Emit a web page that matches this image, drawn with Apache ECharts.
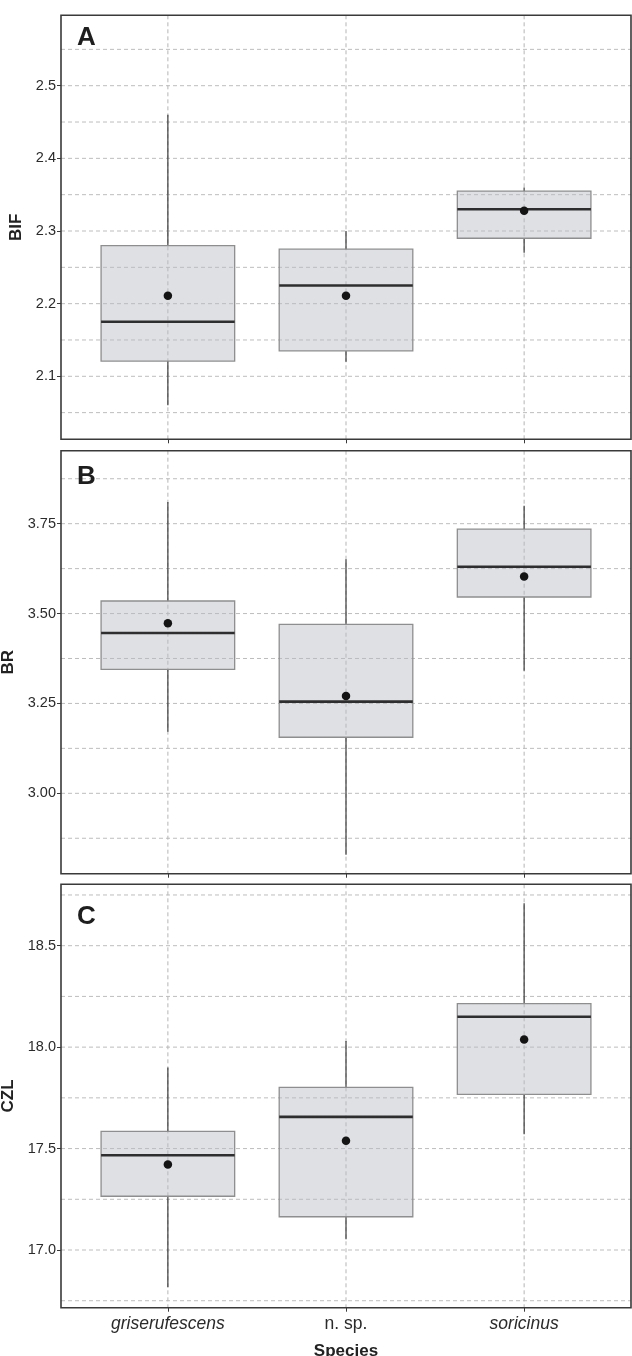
<!DOCTYPE html>
<html>
<head>
<meta charset="utf-8">
<script src="https://cdn.jsdelivr.net/npm/echarts@6/dist/echarts.min.js"></script>
<style>
  html, body { margin: 0; padding: 0; background: #fff; }
  #chart { width: 632px; height: 1356px; }
</style>
</head>
<body>
<div id="chart"></div>
<script>
// Species groups along the x axis (positions 1, 2, 3)
const species = ['griserufescens', 'n. sp.', 'soricinus'];
const italicSpecies = [true, false, true];

// Box statistics per species: [lower whisker, Q1, median, Q3, upper whisker]
const bifBoxes = [
  [2.060, 2.121, 2.175, 2.280, 2.460],
  [2.120, 2.135, 2.225, 2.275, 2.300],
  [2.270, 2.290, 2.330, 2.355, 2.360]
];
const bifMeans = [2.211, 2.211, 2.328];

const brBoxes = [
  [3.171, 3.345, 3.446, 3.535, 3.810],
  [2.829, 3.156, 3.255, 3.470, 3.651],
  [3.341, 3.546, 3.630, 3.735, 3.800]
];
const brMeans = [3.473, 3.271, 3.603];

const czlBoxes = [
  [16.816, 17.265, 17.467, 17.585, 17.900],
  [17.053, 17.164, 17.656, 17.802, 18.030],
  [17.570, 17.767, 18.150, 18.214, 18.709]
];
const czlMeans = [17.422, 17.539, 18.038];

// Axis ranges, labelled ticks and all grid-line values
const bifRange = [2.0133, 2.5969];
const bifTicks = [2.1, 2.2, 2.3, 2.4, 2.5];
const bifGrid = [2.05, 2.1, 2.15, 2.2, 2.25, 2.3, 2.35, 2.4, 2.45, 2.5, 2.55];

const brRange = [2.7764, 3.953];
const brTicks = [3.0, 3.25, 3.5, 3.75];
const brGrid = [2.875, 3.0, 3.125, 3.25, 3.375, 3.5, 3.625, 3.75, 3.875];

const czlRange = [16.7156, 18.8026];
const czlTicks = [17.0, 17.5, 18.0, 18.5];
const czlGrid = [16.75, 17.0, 17.25, 17.5, 17.75, 18.0, 18.25, 18.5, 18.75];

const panels = [
  { letter: 'A', title: 'BIF', boxes: bifBoxes, means: bifMeans, range: bifRange, ticks: bifTicks, grid: bifGrid, digits: 1, top: 15.3, height: 424, letterY: 37.5 },
  { letter: 'B', title: 'BR', boxes: brBoxes, means: brMeans, range: brRange, ticks: brTicks, grid: brGrid, digits: 2, top: 450.7, height: 423, letterY: 476.5 },
  { letter: 'C', title: 'CZL', boxes: czlBoxes, means: czlMeans, range: czlRange, ticks: czlTicks, grid: czlGrid, digits: 1, top: 884.3, height: 423.4, letterY: 917 }
];

const FONT = 'Liberation Sans, Arial, Helvetica, sans-serif';
const BOX_WIDTH = 0.75; // in x-axis units
const GRID_DASH = [4, 3];

const grids = [], xAxes = [], yAxes = [], series = [], graphics = [];

panels.forEach((p, i) => {
  const last = i === panels.length - 1;
  grids.push({
    left: 61, width: 570, top: p.top, height: p.height,
    outerBoundsMode: 'none', containLabel: false,
    show: true, borderColor: '#3a3a3a', borderWidth: 1.6, backgroundColor: 'transparent', z: 10
  });
  xAxes.push({
    type: 'value', gridIndex: i, min: 0.4, max: 3.6,
    axisLine: { show: false },
    splitLine: { show: false },
    axisTick: { show: true, customValues: [1, 2, 3], length: 4, lineStyle: { color: '#3a3a3a', width: 1 } },
    axisLabel: {
      show: last, customValues: [1, 2, 3], margin: 7,
      formatter: v => {
        const k = Math.round(v) - 1;
        return italicSpecies[k] ? '{it|' + species[k] + '}' : '{nm|' + species[k] + '}';
      },
      rich: {
        it: { fontFamily: FONT, fontSize: 17.5, fontStyle: 'italic', color: '#2b2b2b' },
        nm: { fontFamily: FONT, fontSize: 17.5, color: '#2b2b2b' }
      }
    },
    name: last ? 'Species' : '', nameLocation: 'middle', nameGap: 35,
    nameTextStyle: { fontFamily: FONT, fontSize: 17, fontWeight: 'bold', color: '#222' }
  });
  yAxes.push({
    type: 'value', gridIndex: i, min: p.range[0], max: p.range[1],
    axisLine: { show: false },
    splitLine: { show: false },
    axisTick: { show: true, customValues: p.ticks, length: 4, lineStyle: { color: '#3a3a3a', width: 1 } },
    axisLabel: {
      customValues: p.ticks, margin: 5,
      formatter: v => v.toFixed(p.digits),
      fontFamily: FONT, fontSize: 14.5, color: '#2b2b2b'
    },
    name: p.title, nameLocation: 'middle', nameRotate: 90, nameGap: 36,
    nameTextStyle: { fontFamily: FONT, fontSize: 17, fontWeight: 'bold', color: '#222' }
  });

  // Dashed reference grid: horizontal lines at each major/minor value, vertical at each species
  const gridData = p.grid.map(v => ['h', v]).concat([1, 2, 3].map(v => ['v', v]));
  series.push({
    type: 'custom', xAxisIndex: i, yAxisIndex: i, z: 1, silent: true,
    data: gridData.map((d, k) => [k]),
    renderItem: (params, api) => {
      const cs = params.coordSys;
      const d = gridData[params.dataIndex];
      if (d[0] === 'h') {
        const y = api.coord([1, d[1]])[1];
        return { type: 'line', shape: { x1: cs.x, y1: y, x2: cs.x + cs.width, y2: y },
          style: { stroke: '#bdbdbd', lineWidth: 1, lineDash: GRID_DASH } };
      }
      const x = api.coord([d[1], p.range[0]])[0];
      return { type: 'line', shape: { x1: x, y1: cs.y, x2: x, y2: cs.y + cs.height },
        style: { stroke: '#b5b5b5', lineWidth: 1, lineDash: GRID_DASH } };
    }
  });

  // Boxes with whiskers and median bar
  series.push({
    type: 'custom', xAxisIndex: i, yAxisIndex: i, z: 3,
    data: p.boxes.map((b, k) => [k + 1].concat(b)),
    encode: { x: 0, y: [1, 2, 3, 4, 5] },
    renderItem: (params, api) => {
      const x = api.value(0);
      const lo = api.coord([x, api.value(1)]);
      const q1 = api.coord([x - BOX_WIDTH / 2, api.value(2)]);
      const med = api.coord([x - BOX_WIDTH / 2, api.value(3)]);
      const q3 = api.coord([x - BOX_WIDTH / 2, api.value(4)]);
      const hi = api.coord([x, api.value(5)]);
      const right = api.coord([x + BOX_WIDTH / 2, api.value(3)])[0];
      const cx = lo[0];
      return {
        type: 'group',
        children: [
          { type: 'line', shape: { x1: cx, y1: hi[1], x2: cx, y2: q3[1] }, style: { stroke: '#3c3c3c', lineWidth: 1.2 } },
          { type: 'line', shape: { x1: cx, y1: q1[1], x2: cx, y2: lo[1] }, style: { stroke: '#3c3c3c', lineWidth: 1.2 } },
          { type: 'rect', shape: { x: q3[0], y: q3[1], width: right - q3[0], height: q1[1] - q3[1] },
            style: { fill: 'rgba(185,187,192,0.45)', stroke: '#8e8e8e', lineWidth: 1.3 } },
          { type: 'line', shape: { x1: med[0], y1: med[1], x2: right, y2: med[1] }, style: { stroke: '#2e2e2e', lineWidth: 2.6 } }
        ]
      };
    }
  });

  // Group means
  series.push({
    type: 'scatter', xAxisIndex: i, yAxisIndex: i, z: 4,
    symbol: 'circle', symbolSize: 8.5,
    itemStyle: { color: '#141414', opacity: 1 },
    data: p.means.map((m, k) => [k + 1, m])
  });

  graphics.push({
    type: 'text', x: 77, y: p.letterY, z: 20,
    style: { text: p.letter, font: 'bold 26px ' + FONT, fill: '#1e1e1e', textVerticalAlign: 'middle' }
  });
});

const chart = echarts.init(document.getElementById('chart'), null, { renderer: 'canvas' });
chart.setOption({
  animation: false,
  backgroundColor: '#fff',
  grid: grids,
  xAxis: xAxes,
  yAxis: yAxes,
  series: series,
  graphic: graphics
});
</script>
</body>
</html>
